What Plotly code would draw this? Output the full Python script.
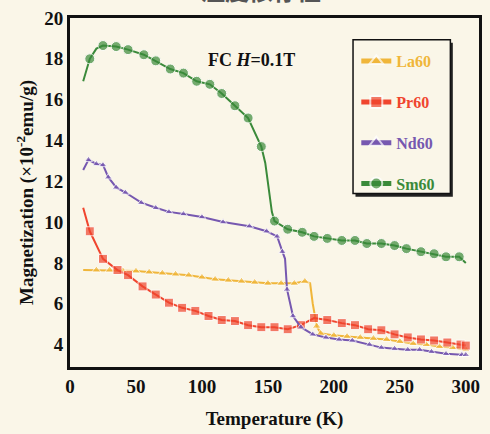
import plotly.graph_objects as go

# ---- data ----
la_T = [10, 20, 30, 40, 50, 60, 70, 80, 90, 100, 110, 120, 130, 140, 150, 160, 170, 178, 182, 184, 187, 190, 200, 210, 220, 230, 240, 250, 260, 270, 280, 290, 300]
la_M = [7.65, 7.65, 7.65, 7.62, 7.6, 7.55, 7.5, 7.45, 7.4, 7.3, 7.2, 7.15, 7.1, 7.05, 7.0, 7.0, 7.0, 7.1, 7.0, 6.0, 4.9, 4.55, 4.45, 4.4, 4.35, 4.3, 4.25, 4.15, 4.05, 4.0, 3.9, 3.85, 3.75]

pr_T = [10, 15, 25, 36, 44, 55, 65, 75, 85, 95, 105, 115, 125, 135, 145, 155, 165, 175, 185, 195, 206, 216, 226, 236, 246, 256, 266, 276, 286, 296, 300]
pr_M = [10.7, 9.55, 8.2, 7.65, 7.4, 6.85, 6.45, 6.05, 5.8, 5.65, 5.4, 5.2, 5.15, 4.95, 4.85, 4.85, 4.75, 4.95, 5.3, 5.2, 5.05, 4.95, 4.75, 4.7, 4.5, 4.35, 4.25, 4.2, 4.1, 4.0, 3.95]

nd_T = [10, 14, 20, 25, 29, 35, 42, 54, 65, 75, 86, 100, 116, 136, 149, 157, 161, 163, 164.5, 169, 175, 184, 194, 204, 214, 227, 236, 246, 256, 265, 274, 285, 297, 300]
nd_M = [12.55, 13.05, 12.85, 12.8, 12.2, 11.7, 11.45, 10.95, 10.7, 10.5, 10.4, 10.25, 10.0, 9.8, 9.55, 9.3, 8.55, 8.2, 6.7, 5.4, 4.85, 4.5, 4.35, 4.25, 4.2, 4.0, 3.85, 3.8, 3.75, 3.75, 3.65, 3.55, 3.5, 3.5]

sm_T = [10, 15, 20, 25, 35, 44, 56, 65, 76, 86, 96, 106, 115, 125, 135, 145, 148, 153, 155, 165, 176, 185, 195, 206, 216, 225, 236, 246, 255, 266, 276, 285, 295, 300]
sm_M = [16.9, 18.0, 18.5, 18.65, 18.6, 18.45, 18.2, 17.9, 17.5, 17.3, 16.9, 16.75, 16.3, 15.7, 15.1, 13.7, 12.9, 10.5, 10.05, 9.65, 9.5, 9.3, 9.2, 9.1, 9.1, 8.95, 8.95, 8.85, 8.7, 8.55, 8.45, 8.3, 8.3, 8.0]

names = ["La60", "Pr60", "Nd60", "Sm60"]
colors = ["#f0b63a", "#f0452e", "#7658b0", "#3a8a3a"]
symbols = ["triangle-up", "square", "triangle-up", "circle"]
msizes = [8, 9, 7, 10]
series = [(la_T, la_M), (pr_T, pr_M), (nd_T, nd_M), (sm_T, sm_M)]
# points that only trace the line (no marker drawn)
unmarked = {0: [0, 18, 19], 1: [0], 2: [0, 17], 3: [0, 2, 16, 17, 33]}

SERIF = "Liberation Serif"
BG = "#faf6e8"

fig = go.Figure()
for i, (T, M) in enumerate(series):
    sizes = [0 if k in unmarked[i] else msizes[i] for k in range(len(T))]
    fig.add_trace(go.Scatter(
        x=T, y=M, mode="lines+markers",
        name=f'<span style="color:{colors[i]}">{names[i]}</span>',
        legendgroup=names[i],
        line=dict(color=colors[i], width=2),
        marker=dict(symbol=symbols[i], size=sizes, color=colors[i]),
    ))

fig.update_layout(
    width=490, height=434,
    margin=dict(l=70, r=8, t=18, b=64),
    paper_bgcolor=BG, plot_bgcolor=BG,
    font=dict(family=SERIF, size=16, color="#111", weight="bold"),
    showlegend=True,
    legend=dict(x=0.70, y=0.925, xanchor="left", yanchor="top",
                bgcolor="rgba(0,0,0,0)", borderwidth=0,
                font=dict(family=SERIF, size=16, weight="bold"),
                traceorder="grouped", tracegroupgap=17, itemsizing="constant"),
    xaxis=dict(range=[0, 310], tickvals=[0, 50, 100, 150, 200, 250, 300],
               showgrid=False, zeroline=False, showline=True, linecolor="#111",
               linewidth=3, mirror=True, ticks="",
               tickfont=dict(family=SERIF, size=19, weight="bold"),
               title=dict(text="Temperature (K)", standoff=16,
                          font=dict(family=SERIF, size=19, weight="bold"))),
    yaxis=dict(range=[2.9, 20.0], tickvals=[4, 6, 8, 10, 12, 14, 16, 18, 20],
               showgrid=False, zeroline=False, showline=True, linecolor="#111",
               linewidth=3, mirror=True, ticks="",
               tickfont=dict(family=SERIF, size=19, weight="bold"),
               title=dict(text="Magnetization (×10<sup>-2</sup>emu/g)", standoff=6,
                          font=dict(family=SERIF, size=19, weight="bold"))),
    shapes=[
        dict(type="rect", xref="paper", yref="paper", x0=0.698, x1=0.936, y0=0.488, y1=0.929,
             line=dict(width=0), fillcolor="#222", layer="below"),
        dict(type="rect", xref="paper", yref="paper", x0=0.692, x1=0.930, y0=0.497, y1=0.9375,
             line=dict(width=1.5, color="#111"), fillcolor=BG, layer="below"),
    ],
    annotations=[
        dict(text="FC <i>H</i>=0.1T", x=0.444, y=0.915, xref="paper", yref="paper",
             showarrow=False, font=dict(family=SERIF, size=18, weight="bold", color="#111")),
        dict(text="温度依存性", x=0.466, y=1.082, xref="paper", yref="paper",
             showarrow=False, yanchor="middle",
             font=dict(family="Noto Sans CJK SC", size=24, color="#555")),
    ],
)

fig.write_html("out.html")
